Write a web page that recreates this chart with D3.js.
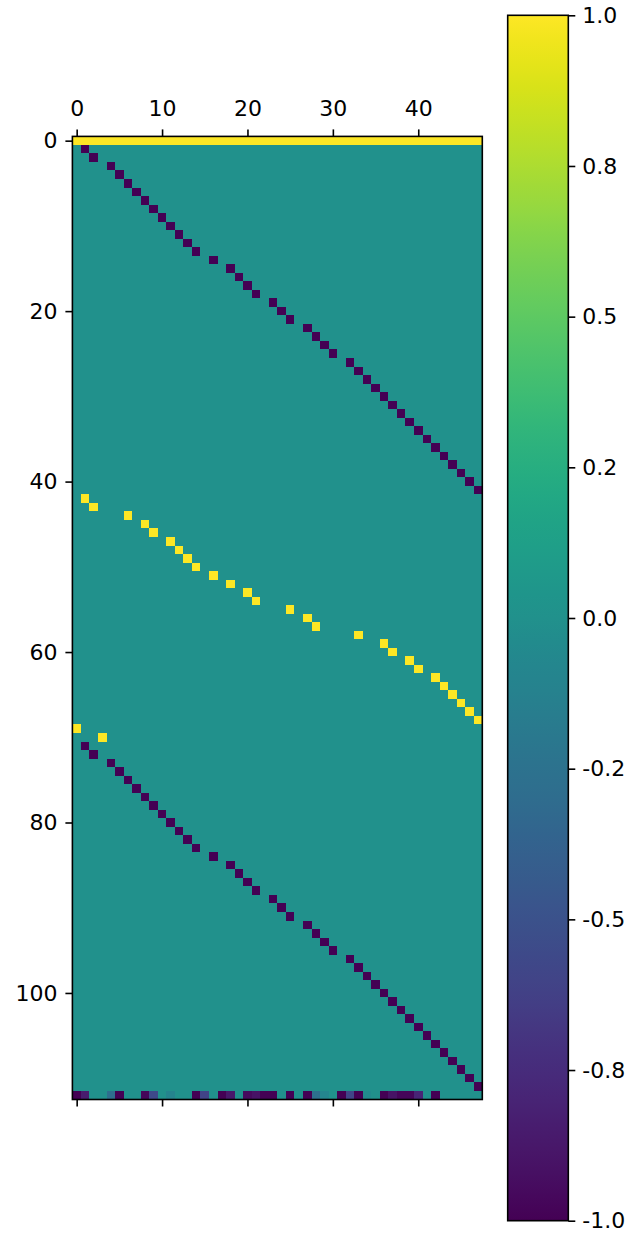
<!DOCTYPE html>
<html>
<head>
<meta charset="utf-8">
<script src="https://cdn.jsdelivr.net/npm/d3@7"></script>
<style>
  body { margin: 0; background: #fff; }
  text { font-family: "DejaVu Sans", sans-serif; }
</style>
</head>
<body>
<svg id="chart" width="634" height="1237"></svg>
<script>
// ---------------- data ----------------
const nCols = 48;
const nRows = 113;
// row 0 : every column = +1
const topRowValue = 1;
// rows 1..41 (and again rows 71..111): -1 at these columns
const negDiagCols = [1,2,4,5,6,7,8,9,10,11,12,13,14,16,18,19,20,21,23,24,25,27,28,29,30,32,33,34,35,36,37,38,39,40,41,42,43,44,45,46,47];
const negBlockStartRows = [1, 71];
// rows 42..68: +1 at these columns
const posDiagCols = [1,2,6,8,9,11,12,13,14,16,18,20,21,25,27,28,33,36,37,39,40,42,43,44,45,46,47];
const posBlockStartRow = 42;
// isolated +1 cells [row, col]
const extraPosCells = [[69,0],[70,3]];
// last row (112) values
const lastRowValues = [-1,-0.85,0,0,-0.28,-1,0,0,-0.97,-0.56,0,-0.1,0,0,-1,-0.6,0,-1,-0.87,0,-0.95,-0.9,-1,-1,0,-1,0,-1,-0.27,-0.08,0,-1,-0.58,-1,-0.04,0,-1,-0.9,-0.97,-0.97,-0.8,0,-1,0,0,0,0,0];
const xTickValues = [0,10,20,30,40];
const yTickValues = [0,20,40,60,80,100];
const cbTickValues = [1,0.75,0.5,0.25,0,-0.25,-0.5,-0.75,-1];
const cbTickLabels = ["1.0","0.8","0.5","0.2","0.0","-0.2","-0.5","-0.8","-1.0"];

// build matrix
const M = Array.from({length: nRows}, () => new Array(nCols).fill(0));
for (let c = 0; c < nCols; c++) M[0][c] = topRowValue;
negBlockStartRows.forEach(r0 => negDiagCols.forEach((c, i) => { M[r0 + i][c] = -1; }));
posDiagCols.forEach((c, i) => { M[posBlockStartRow + i][c] = 1; });
extraPosCells.forEach(([r, c]) => { M[r][c] = 1; });
lastRowValues.forEach((v, c) => { M[nRows - 1][c] = v; });
const cells = [];
M.forEach((row, r) => row.forEach((v, c) => cells.push({r, c, v})));

// ---------------- layout ----------------
const svg = d3.select("#chart");
const L = 72.4, R = 482.3, T = 136.4, B = 1099.5;
const x = d3.scaleLinear().domain([-0.5, nCols - 0.5]).range([L, R]);
const y = d3.scaleLinear().domain([-0.5, nRows - 0.5]).range([T, B]);
const color = d3.scaleSequential(d3.interpolateViridis).domain([-1, 1]);

svg.append("g").selectAll("rect").data(cells).join("rect")
  .attr("x", d => x(d.c - 0.5))
  .attr("y", d => y(d.r - 0.5))
  .attr("width", d => x(d.c + 0.5) - x(d.c - 0.5) + 0.3)
  .attr("height", d => y(d.r + 0.5) - y(d.r - 0.5) + 0.3)
  .attr("fill", d => color(d.v))
  .attr("shape-rendering", "crispEdges");

// frame
svg.append("rect").attr("x", L).attr("y", T).attr("width", R - L).attr("height", B - T)
  .attr("fill", "none").attr("stroke", "#000").attr("stroke-width", 1.6);

function styleAxis(g) {
  g.select(".domain").remove();
  g.selectAll(".tick line").attr("stroke", "#000").attr("stroke-width", 1.6);
  g.selectAll(".tick text").attr("fill", "#000").style("font-size", "22px")
    .style("font-family", "'DejaVu Sans', sans-serif");
}

svg.append("g").attr("transform", `translate(0,${T})`)
  .call(d3.axisTop(x).tickValues(xTickValues).tickSize(7).tickPadding(13).tickFormat(d3.format("d")))
  .call(styleAxis);
svg.append("g").attr("transform", `translate(0,${B})`)
  .call(d3.axisBottom(x).tickValues(xTickValues).tickSize(7).tickFormat(""))
  .call(styleAxis);
svg.append("g").attr("transform", `translate(${L},0)`)
  .call(d3.axisLeft(y).tickValues(yTickValues).tickSize(7).tickPadding(8).tickFormat(d3.format("d")))
  .call(styleAxis);

// ---------------- colorbar ----------------
const cbL = 507.7, cbR = 568.3, cbT = 15.3, cbB = 1220.7;
const cbY = d3.scaleLinear().domain([-1, 1]).range([cbB, cbT]);
const defs = svg.append("defs");
const grad = defs.append("linearGradient").attr("id", "cbgrad")
  .attr("x1", 0).attr("y1", 1).attr("x2", 0).attr("y2", 0);
d3.range(0, 1.0001, 0.02).forEach(t => {
  grad.append("stop").attr("offset", t).attr("stop-color", color(-1 + 2 * t));
});
svg.append("rect").attr("x", cbL).attr("y", cbT).attr("width", cbR - cbL).attr("height", cbB - cbT)
  .attr("fill", "url(#cbgrad)").attr("stroke", "#000").attr("stroke-width", 1.6);
svg.append("g").attr("transform", `translate(${cbR},0)`)
  .call(d3.axisRight(cbY).tickValues(cbTickValues).tickSize(7).tickPadding(7)
    .tickFormat((d, i) => cbTickLabels[i]))
  .call(styleAxis);
</script>
</body>
</html>
